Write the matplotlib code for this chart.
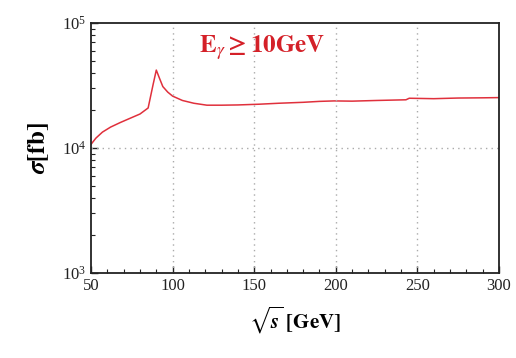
import numpy as np
import matplotlib
matplotlib.use("Agg")
import matplotlib.pyplot as plt
from matplotlib.ticker import LogLocator, MultipleLocator, NullFormatter

plt.rcParams["mathtext.fontset"] = "stix"

# values
sqrt_s = [50, 53, 57, 62, 68, 74, 80, 85, 88, 90, 92, 94, 97, 100, 106, 113, 121,
          130, 140, 153, 165, 180, 190, 199, 210, 225, 243, 245, 260, 275, 290, 300]
sigma = [1.07e4, 1.2e4, 1.34e4, 1.47e4, 1.6e4, 1.73e4, 1.87e4, 2.09e4, 3.2e4, 4.2e4,
         3.6e4, 3.1e4, 2.8e4, 2.6e4, 2.4e4, 2.28e4, 2.2e4, 2.2e4, 2.21e4, 2.24e4,
         2.28e4, 2.32e4, 2.36e4, 2.38e4, 2.37e4, 2.4e4, 2.43e4, 2.5e4, 2.48e4,
         2.51e4, 2.52e4, 2.53e4]

fig = plt.figure(figsize=(5.16, 3.58), dpi=100)
ax = fig.add_axes([0.1764, 0.2374, 0.7906, 0.6984])

ax.plot(sqrt_s, sigma, color="#e0303c", lw=1.1)
ax.set_yscale("log")
ax.set_xlim(50, 300)
ax.set_ylim(1e3, 1e5)

ax.xaxis.set_major_locator(MultipleLocator(50))
ax.xaxis.set_minor_locator(MultipleLocator(10))
ax.yaxis.set_minor_locator(LogLocator(base=10, subs=np.arange(2, 10)))
ax.yaxis.set_minor_formatter(NullFormatter())
ax.tick_params(which="both", direction="in", top=False, right=False,
               labelsize=12, colors="#222222")
ax.tick_params(which="major", length=5, width=1)
ax.tick_params(which="minor", length=3, width=0.8)
for lab in ax.get_xticklabels() + ax.get_yticklabels():
    lab.set_family("Liberation Serif")

for xv in [100, 150, 200, 250]:
    ax.axvline(xv, color="#aaaaaa", lw=1, ls=(0, (1, 3)))
ax.axhline(1e4, color="#aaaaaa", lw=1, ls=(0, (1, 3)))

for sp in ax.spines.values():
    sp.set_linewidth(1.3)
    sp.set_color("#222222")

ax.text(0.42, 0.9, r"$\mathbf{E}_{\gamma}\mathbf{\geq 10GeV}$", transform=ax.transAxes,
        color="#d42028", fontsize=18, ha="center", va="center")
ax.set_ylabel(r"$\boldsymbol{\sigma}\mathbf{[fb]}$", fontsize=18, labelpad=8)
ax.set_xlabel(r"$\sqrt{\boldsymbol{s}}\;\mathbf{[GeV]}$", fontsize=15, labelpad=8)

fig.savefig("out.png", dpi=100)
